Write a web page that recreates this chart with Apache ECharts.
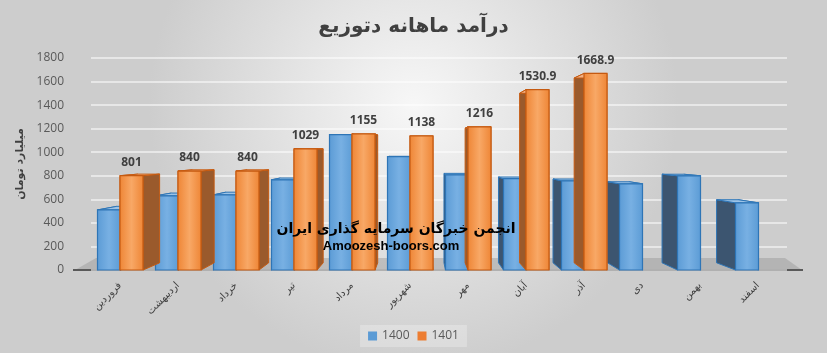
<!DOCTYPE html>
<html>
<head>
<meta charset="utf-8">
<script src="https://cdn.jsdelivr.net/npm/echarts@6/dist/echarts.min.js"></script>
<style>
html, body { margin: 0; padding: 0; }
#chart { width: 827px; height: 353px; }
</style>
</head>
<body>
<div id="chart"></div>
<script>
// months of the Persian year
var months = ['فروردین', 'اردیبهشت', 'خرداد', 'تیر', 'مرداد', 'شهریور', 'مهر', 'آبان', 'آذر', 'دی', 'بهمن', 'اسفند'];
var sales1400 = [510, 630, 638, 766, 1150, 962, 808, 775, 757, 732, 800, 570];
var sales1401 = [801, 840, 840, 1029, 1155, 1138, 1216, 1530.9, 1668.9, null, null, null];
var seriesNames = ['1400', '1401'];

var chart = echarts.init(document.getElementById('chart'));

// fake 3d: every bar is projected a little towards a vanishing point
var VP = [420, 150];
var DEPTH = 0.06;
var BAR_W = 23;

function boxRenderer(colors, offset, withLabel) {
	return function(params, api) {
		var v = api.value(1);
		if (v == null || isNaN(v)) return;
		var p = api.coord([api.value(0), v]);
		var b = api.coord([api.value(0), 0]);
		var x0 = p[0] + offset - BAR_W / 2;
		var x1 = x0 + BAR_W;
		var yt = p[1], yb = b[1];
		function back(x, y) {
			return [x + (VP[0] - x) * DEPTH, y + (VP[1] - y) * DEPTH];
		}
		var ftl = [x0, yt], ftr = [x1, yt], fbl = [x0, yb], fbr = [x1, yb];
		var btl = back(x0, yt), btr = back(x1, yt), bbl = back(x0, yb), bbr = back(x1, yb);
		var children = [{
			type: 'polygon',
			shape: { points: [ftl, fbl, bbl, btl] },
			style: { fill: colors.side, stroke: colors.stroke, lineWidth: 1 }
		}, {
			type: 'polygon',
			shape: { points: [ftr, fbr, bbr, btr] },
			style: { fill: colors.side, stroke: colors.stroke, lineWidth: 1 }
		}, {
			type: 'polygon',
			shape: { points: [ftl, ftr, btr, btl] },
			style: { fill: colors.top, stroke: colors.stroke, lineWidth: 1 }
		}, {
			type: 'rect',
			shape: { x: x0, y: yt, width: BAR_W, height: yb - yt },
			style: {
				fill: new echarts.graphic.LinearGradient(0, 0, 1, 0, [
					{ offset: 0, color: colors.front[0] },
					{ offset: 0.5, color: colors.front[1] },
					{ offset: 1, color: colors.front[0] }
				]),
				stroke: colors.stroke,
				lineWidth: 1.2
			}
		}];
		if (withLabel) {
			children.push({
				type: 'text',
				style: {
					text: String(v),
					x: (x0 + x1) / 2,
					y: yt - 7,
					align: 'center',
					verticalAlign: 'bottom',
					font: 'bold 12px "Open Sans"',
					fill: '#404040'
				}
			});
		}
		return { type: 'group', children: children };
	};
}

var blue = { front: ['#5b9bd5', '#78b0e3'], side: '#3c5570', top: '#9dc3e6', stroke: '#2e75b6' };
var orange = { front: ['#ee8535', '#f8a866'], side: '#9a5a2c', top: '#f4b183', stroke: '#c55a11' };

var option = {
	backgroundColor: {
		type: 'radial',
		x: 0.5,
		y: 0.3,
		r: 0.75,
		colorStops: [
			{ offset: 0, color: '#f7f7f7' },
			{ offset: 1, color: '#cdcdcd' }
		]
	},
	title: {
		text: 'درآمد ماهانه دتوزیع',
		left: 'center',
		top: 12,
		textStyle: {
			fontFamily: 'DejaVu Sans',
			fontSize: 20,
			fontWeight: 'bold',
			color: '#404040'
		}
	},
	legend: {
		bottom: 6,
		left: 'center',
		icon: 'rect',
		itemWidth: 9,
		itemHeight: 9,
		itemGap: 8,
		padding: [5, 8],
		backgroundColor: 'rgba(255,255,255,0.25)',
		textStyle: { color: '#595959', fontSize: 12, fontFamily: 'Open Sans' },
		data: seriesNames
	},
	grid: {
		left: 91,
		right: 40,
		top: 58,
		bottom: 83
	},
	xAxis: {
		type: 'category',
		data: months,
		axisLine: { show: false },
		axisTick: { show: false },
		axisLabel: {
			rotate: 45,
			margin: 14,
			interval: 0,
			fontSize: 10,
			fontFamily: 'DejaVu Sans',
			color: '#404040'
		}
	},
	yAxis: {
		type: 'value',
		min: 0,
		max: 1800,
		interval: 200,
		name: 'میلیارد تومان',
		nameLocation: 'middle',
		nameRotate: 90,
		nameGap: 60,
		nameTextStyle: { fontFamily: 'DejaVu Sans', fontSize: 11, fontWeight: 'bold', color: '#404040' },
		axisLabel: {
			margin: 27,
			fontSize: 12,
			fontFamily: 'Open Sans',
			color: '#595959',
			formatter: function(v) { return String(v); }
		},
		splitLine: { lineStyle: { color: 'rgba(255,255,255,0.7)', width: 1.5 } }
	},
	graphic: [{
		type: 'polygon',
		z: 0,
		shape: { points: [[75, 270], [802, 270], [785, 258], [96, 258]] },
		style: { fill: 'rgba(150,150,150,0.45)' }
	}, {
		type: 'line',
		z: 0,
		shape: { x1: 73, y1: 270, x2: 803, y2: 270 },
		style: { stroke: '#595959', lineWidth: 2 }
	}, {
		type: 'text',
		z: 100,
		x: 396,
		y: 229,
		style: {
			text: 'انجمن خبرگان سرمایه گذاری ایران',
			align: 'center',
			verticalAlign: 'middle',
			font: 'bold 14px "DejaVu Sans"',
			fill: '#000'
		}
	}, {
		type: 'text',
		z: 100,
		x: 391,
		y: 246,
		style: {
			text: 'Amoozesh-boors.com',
			align: 'center',
			verticalAlign: 'middle',
			font: 'bold 13px "Liberation Sans"',
			fill: '#000'
		}
	}],
	series: [{
		name: seriesNames[0],
		type: 'custom',
		itemStyle: { color: '#5b9bd5', borderColor: '#2e75b6' },
		renderItem: boxRenderer(blue, -11, false),
		encode: { x: 0, y: 1 },
		data: sales1400.map(function(v, i) { return [i, v]; })
	}, {
		name: seriesNames[1],
		type: 'custom',
		itemStyle: { color: '#ed7d31', borderColor: '#c55a11' },
		renderItem: boxRenderer(orange, 11.5, true),
		encode: { x: 0, y: 1 },
		data: sales1401.map(function(v, i) { return [i, v]; })
	}]
};

chart.setOption(option);
</script>
</body>
</html>
